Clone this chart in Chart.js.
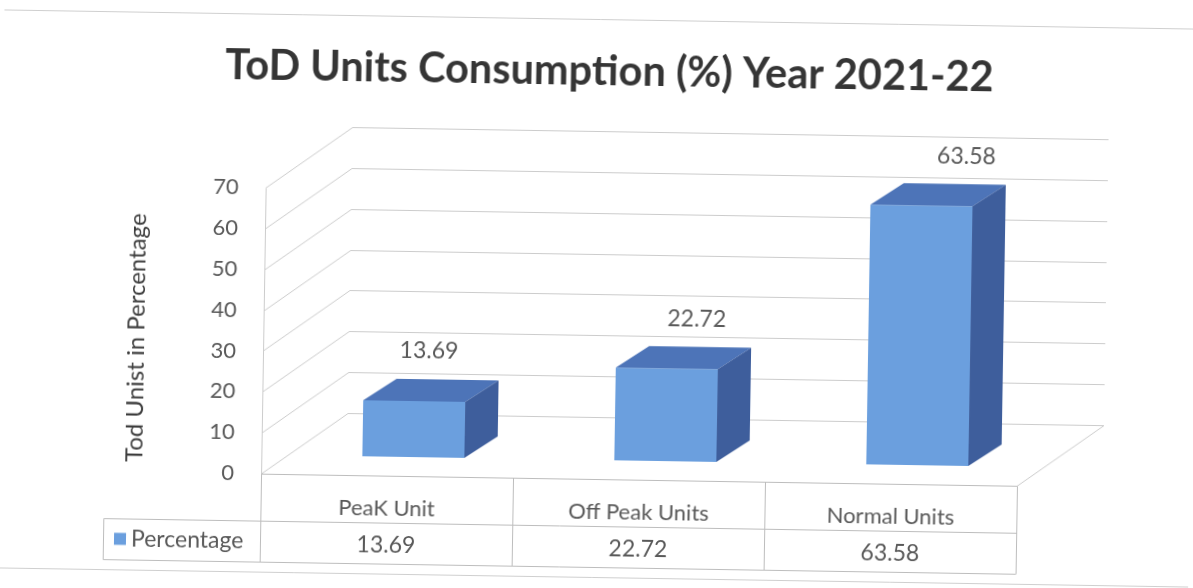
<!DOCTYPE html>
<html>
<head>
<meta charset="utf-8">
<script src="https://cdn.jsdelivr.net/npm/chart.js@4.4.1/dist/chart.umd.min.js"></script>
<style>
  html, body { margin: 0; padding: 0; background: #fff; overflow: hidden; }
  #wrap { width: 1193px; height: 588px; transform: rotate(0.92deg); }
</style>
</head>
<body>
<div id="wrap"><canvas id="chart" width="1193" height="588"></canvas></div>
<script>
// chart texts and values
var chartTitle  = 'ToD Units Consumption (%) Year 2021-22';
var axisTitle   = 'Tod Unist in Percentage';
var seriesName  = 'Percentage';
var categories  = ['PeaK Unit', 'Off Peak Units', 'Normal Units'];
var percentages = [13.69, 22.72, 63.58];
var yTickValues = [0, 10, 20, 30, 40, 50, 60, 70];

// colours
var faceFront = '#6b9fde',
    faceTop   = '#4d74b8',
    faceSide  = '#3e5e9c',
    gridColor = '#cccccc',
    textColor = '#595959';

// 3d look: depth of the walls, where the bars sit, depth of a bar
var wallDepth = { x: 86, y: -62 };
var barShift  = { x: 26, y: -19 };
var barDepth  = { x: 33, y: -22 };

function poly(ctx, pts, color){
	ctx.beginPath();
	ctx.moveTo(pts[0][0], pts[0][1]);
	for (var i = 1; i < pts.length; i++) ctx.lineTo(pts[i][0], pts[i][1]);
	ctx.closePath();
	ctx.fillStyle = color;
	ctx.fill();
}

var threeD = {
	id: 'threeD',
	beforeDatasetsDraw: function(chart){
		var ctx = chart.ctx, a = chart.chartArea, y = chart.scales.y;
		var p0   = Math.round(y.getPixelForValue(0)) + 0.5;
		var pTop = Math.round(y.getPixelForValue(yTickValues[yTickValues.length - 1])) + 0.5;

		ctx.save();
		ctx.strokeStyle = gridColor;
		ctx.lineWidth = 1;
		ctx.beginPath();
		// side wall + back wall gridlines
		yTickValues.forEach(function(v){
			var py = Math.round(y.getPixelForValue(v)) + 0.5;
			ctx.moveTo(a.left, py);
			ctx.lineTo(a.left + wallDepth.x, py + wallDepth.y);
			ctx.lineTo(a.right + wallDepth.x, py + wallDepth.y);
		});
		// front edge of the side wall
		ctx.moveTo(a.left + 0.5, p0);
		ctx.lineTo(a.left + 0.5, pTop);
		// right edge of the floor
		ctx.moveTo(a.right, p0);
		ctx.lineTo(a.right + wallDepth.x, p0 + wallDepth.y);
		ctx.stroke();
		ctx.restore();

		// push the bars back into the box
		ctx.save();
		ctx.translate(barShift.x, barShift.y);
	},
	afterDatasetsDraw: function(chart){
		var ctx = chart.ctx;
		ctx.restore();

		var meta   = chart.getDatasetMeta(0);
		var first  = chart.scales.x.getPixelForValue(0);
		meta.data.forEach(function(bar, i){
			var half = bar.width / 2;
			var x1 = bar.x - half + barShift.x,
			    x2 = bar.x + half + barShift.x,
			    top = bar.y + barShift.y,
			    base = bar.base + barShift.y;

			// top face
			poly(ctx, [[x1, top], [x2, top], [x2 + barDepth.x, top + barDepth.y], [x1 + barDepth.x, top + barDepth.y]], faceTop);
			// side face
			poly(ctx, [[x2, top], [x2 + barDepth.x, top + barDepth.y], [x2 + barDepth.x, base + barDepth.y], [x2, base]], faceSide);

			// value label
			ctx.save();
			ctx.font = '23px Lato';
			ctx.fillStyle = textColor;
			ctx.textAlign = 'center';
			ctx.textBaseline = 'middle';
			ctx.fillText(percentages[i].toFixed(2), bar.x + barShift.x + 14 + (bar.x - first) * 0.06, top - 50);
			ctx.restore();
		});
	},
	afterDraw: function(chart){
		var ctx = chart.ctx, a = chart.chartArea, x = chart.scales.x;
		var rowTop = a.bottom + 0.5,
		    rowMid = a.bottom + 47.5,
		    rowBot = a.bottom + 88.5,
		    labelLeft = 107.5;

		ctx.save();

		// chart title
		ctx.font = 'bold 41.5px Lato';
		ctx.fillStyle = '#353535';
		ctx.textAlign = 'center';
		ctx.textBaseline = 'middle';
		ctx.fillText(chartTitle, 606, 72);

		// value axis title
		ctx.save();
		ctx.translate(137, 345);
		ctx.rotate(-Math.PI / 2);
		ctx.font = '24px Lato';
		ctx.fillStyle = '#3d3d3d';
		ctx.fillText(axisTitle, 0, 0);
		ctx.restore();

		// cell borders from the category scale
		var edges = [a.left];
		for (var i = 0; i < categories.length - 1; i++) {
			edges.push((x.getPixelForValue(i) + x.getPixelForValue(i + 1)) / 2);
		}
		edges.push(a.right);

		ctx.strokeStyle = '#bdbdbd';
		ctx.lineWidth = 1;
		ctx.beginPath();
		ctx.moveTo(a.left, rowTop); ctx.lineTo(a.right, rowTop);
		ctx.moveTo(labelLeft, rowMid); ctx.lineTo(a.right, rowMid);
		ctx.moveTo(labelLeft, rowBot); ctx.lineTo(a.right, rowBot);
		ctx.moveTo(labelLeft, rowMid); ctx.lineTo(labelLeft, rowBot);
		edges.forEach(function(ex){
			ex = Math.round(ex) + 0.5;
			ctx.moveTo(ex, rowTop); ctx.lineTo(ex, rowBot);
		});
		ctx.stroke();

		// legend key + series name
		ctx.fillStyle = faceFront;
		ctx.fillRect(118, rowMid + 14, 12, 12);
		ctx.font = '23px Lato';
		ctx.fillStyle = textColor;
		ctx.textBaseline = 'middle';
		ctx.textAlign = 'left';
		ctx.fillText(seriesName, 135, rowMid + 20);

		// values row
		ctx.textAlign = 'center';
		percentages.forEach(function(v, i){
			ctx.fillText(v.toFixed(2), x.getPixelForValue(i), rowMid + 22);
		});

		// chart frame
		ctx.strokeStyle = '#cfcfcf';
		ctx.beginPath();
		ctx.moveTo(0, 19.5); ctx.lineTo(1193, 19.5);
		ctx.moveTo(0, 577.5); ctx.lineTo(1193, 577.5);
		ctx.stroke();
		ctx.restore();
	}
};

var ctx = document.getElementById('chart').getContext('2d');

new Chart(ctx, {
	type: 'bar',
	data: {
		labels: categories,
		datasets: [{
			label: seriesName,
			data: percentages,
			backgroundColor: faceFront,
			borderWidth: 0,
			barPercentage: 0.405,
			categoryPercentage: 1.0
		}]
	},
	options: {
		responsive: false,
		animation: false,
		events: [],
		layout: {
			padding: { left: 118, right: 173, top: 193, bottom: 64 }
		},
		plugins: {
			legend: { display: false },
			tooltip: { enabled: false },
			title: { display: false }
		},
		scales: {
			x: {
				grid: { display: false, drawTicks: false },
				border: { display: false },
				ticks: {
					color: textColor,
					font: { family: 'Lato', size: 22 },
					padding: 20,
					maxRotation: 0,
					autoSkip: false
				},
				afterFit: function(scale){ scale.height = 45; }
			},
			y: {
				min: 0,
				max: 70,
				grid: { display: false, drawTicks: false },
				border: { display: false },
				afterBuildTicks: function(scale){
					scale.ticks = yTickValues.map(function(v){ return { value: v }; });
				},
				ticks: {
					color: textColor,
					font: { family: 'Lato', size: 22 },
					padding: 27
				},
				afterFit: function(scale){ scale.width = 146; }
			}
		}
	},
	plugins: [threeD]
});
</script>
</body>
</html>
